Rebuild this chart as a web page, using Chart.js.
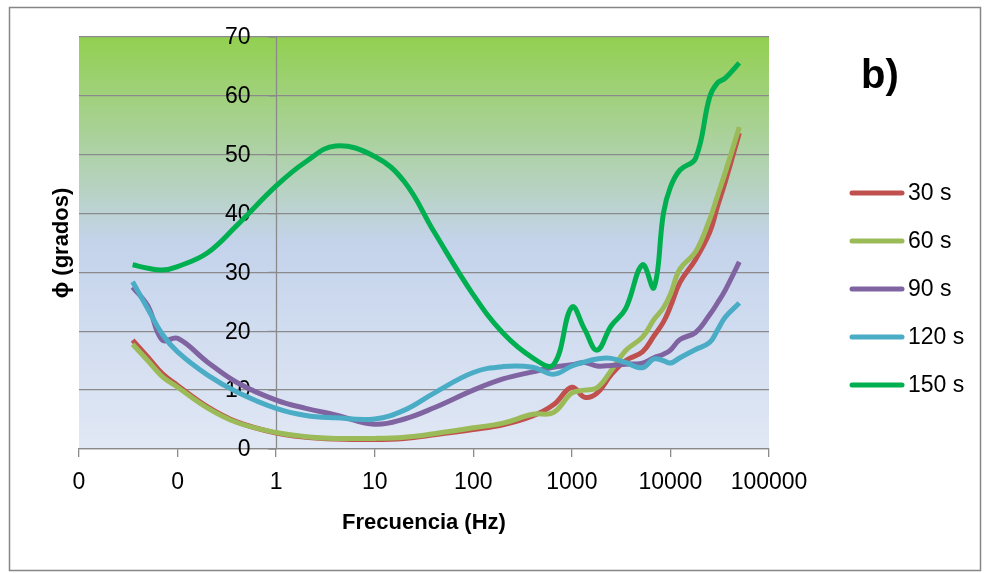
<!DOCTYPE html>
<html>
<head>
<meta charset="utf-8">
<script src="https://cdn.jsdelivr.net/npm/chart.js@4.4.0/dist/chart.umd.min.js"></script>
<style>
  html, body { margin: 0; padding: 0; background: #fff; }
</style>
</head>
<body>
<canvas id="phaseChart" width="984" height="573"></canvas>
<script>
// frequencies (Hz) shared by every series
const freqs = [0.035, 0.05, 0.07, 0.1, 0.2, 0.4, 1, 2, 4, 10, 20, 40, 100, 200, 400, 650,
  1000, 1350, 1800, 2500, 3500, 5200, 6800, 8500, 10000, 12500, 18000, 25000, 30000, 36000, 50000];

// phase angle (degrees)
const phase30 = [18.5, 15.6, 12.8, 10.8, 7.2, 4.6, 2.7, 2.0, 1.7, 1.6, 1.8, 2.4, 3.3, 4.1, 5.6, 7.5,
  10.5, 8.8, 9.5, 12.6, 15.0, 16.5, 19.2, 21.6, 24.2, 28.3, 32.2, 36.8, 41.2, 45.4, 53.7];
const phase60 = [17.8, 15.0, 12.3, 10.5, 7.0, 4.5, 2.8, 2.1, 1.8, 1.8, 2.0, 2.6, 3.6, 4.4, 5.9, 6.2,
  9.5, 10.0, 10.4, 13.3, 16.7, 19.0, 22.0, 24.0, 26.3, 30.6, 33.5, 39.0, 43.0, 47.0, 54.7];
const phase90 = [27.5, 24.3, 18.5, 18.8, 14.8, 11.3, 8.3, 6.9, 5.8, 4.2, 5.1, 7.0, 10.0, 11.9, 13.1, 13.9,
  14.3, 14.7, 14.1, 14.2, 14.4, 14.6, 15.5, 16.1, 16.8, 18.6, 19.8, 22.8, 24.8, 27.0, 31.8];
const phase120 = [28.4, 23.8, 19.5, 16.5, 12.6, 9.7, 6.9, 5.7, 5.3, 5.1, 6.6, 9.5, 13.0, 14.0, 13.9, 12.7,
  14.1, 14.8, 15.3, 15.4, 14.7, 13.8, 15.3, 15.0, 14.6, 15.5, 16.9, 18.1, 20.2, 22.4, 24.8];
const phase150 = [31.3, 30.7, 30.4, 31.0, 33.3, 38.0, 44.7, 48.8, 51.5, 49.7, 45.4, 36.9, 26.2, 19.7, 15.5, 14.3,
  24.1, 20.3, 16.8, 20.9, 23.8, 31.3, 27.4, 40.1, 44.5, 47.4, 49.4, 59.8, 62.2, 63.0, 65.6];

const seriesLabels = ['30 s', '60 s', '90 s', '120 s', '150 s'];
const seriesColors = ['#C0504D', '#9BBB59', '#8064A2', '#4BACC6', '#00B050'];
const seriesValues = [phase30, phase60, phase90, phase120, phase150];

const xTickValues = [0.01, 0.1, 1, 10, 100, 1000, 10000, 100000];
const xTickLabels = ['0', '0', '1', '10', '100', '1000', '10000', '100000'];
const yCrossAt = 1; // the vertical axis crosses the log axis at 1 Hz

const FONT = '"Liberation Sans", Arial, sans-serif';
const GRID = '#8a8a8a';

// plot background, crossing y axis with its labels, frame, legend, panel letter and y title
const decor = {
    id: 'decor',
    beforeDraw(chart) {
        const { ctx, chartArea: a } = chart;
        ctx.save();
        ctx.fillStyle = '#fff';
        ctx.fillRect(0, 0, chart.width, chart.height);
        const g = ctx.createLinearGradient(0, a.top, 0, a.bottom);
        g.addColorStop(0, 'rgb(146,208,80)');
        g.addColorStop(0.5, 'rgb(196,211,235)');
        g.addColorStop(1, 'rgb(225,232,245)');
        ctx.fillStyle = g;
        ctx.fillRect(a.left, a.top, a.right - a.left, a.bottom - a.top);
        ctx.strokeStyle = '#868686';
        ctx.lineWidth = 1.5;
        ctx.strokeRect(9.5, 7.5, 971, 563);
        ctx.restore();
    },
    beforeDatasetsDraw(chart) {
        const { ctx, chartArea: a, scales: { x, y } } = chart;
        const xc = Math.round(x.getPixelForValue(yCrossAt)) + 0.5;
        ctx.save();
        ctx.strokeStyle = GRID;
        ctx.lineWidth = 1.3;
        ctx.beginPath();
        ctx.moveTo(xc, a.top);
        ctx.lineTo(xc, a.bottom);
        y.ticks.forEach(t => {
            const py = y.getPixelForValue(t.value);
            ctx.moveTo(xc - 8, py);
            ctx.lineTo(xc, py);
        });
        ctx.stroke();
        ctx.fillStyle = '#000';
        ctx.font = '23px ' + FONT;
        ctx.textAlign = 'right';
        ctx.textBaseline = 'middle';
        y.ticks.forEach(t => {
            ctx.fillText(String(t.value), xc - 26, y.getPixelForValue(t.value) + 1);
        });
        ctx.restore();
    },
    afterDraw(chart) {
        const ctx = chart.ctx;
        ctx.save();
        // legend
        ctx.font = '23px ' + FONT;
        ctx.textBaseline = 'middle';
        ctx.textAlign = 'left';
        ctx.lineCap = 'round';
        seriesLabels.forEach((lbl, i) => {
            const y = 193 + i * 48;
            ctx.strokeStyle = seriesColors[i];
            ctx.lineWidth = 5;
            ctx.beginPath();
            ctx.moveTo(852, y);
            ctx.lineTo(902, y);
            ctx.stroke();
            ctx.fillStyle = '#000';
            ctx.fillText(lbl, 908, y + 1);
        });
        // panel letter
        ctx.font = 'bold 40px ' + FONT;
        ctx.textBaseline = 'alphabetic';
        ctx.fillText('b)', 861, 88);
        // y axis title
        ctx.translate(62, 243);
        ctx.rotate(-Math.PI / 2);
        ctx.textAlign = 'center';
        ctx.textBaseline = 'middle';
        ctx.font = 'bold 22px ' + FONT;
        ctx.fillText('\u03D5 (grados)', 0, 0);
        ctx.restore();
    }
};

new Chart(document.getElementById('phaseChart'), {
    type: 'line',
    data: {
        datasets: seriesLabels.map((lbl, i) => ({
            label: lbl,
            data: freqs.map((f, k) => ({ x: f, y: seriesValues[i][k] })),
            borderColor: seriesColors[i],
            borderWidth: 5,
            pointRadius: 0,
            tension: 0.4,
            fill: false,
            order: seriesLabels.length - i
        }))
    },
    options: {
        responsive: false,
        animation: false,
        layout: { padding: { left: 79, right: 215, top: 37, bottom: 30 } },
        plugins: { legend: { display: false }, tooltip: { enabled: false } },
        scales: {
            x: {
                type: 'logarithmic',
                min: 0.01,
                max: 100000,
                afterBuildTicks: s => { s.ticks = xTickValues.map(v => ({ value: v })); },
                afterFit: s => { s.height = 94; },
                ticks: {
                    autoSkip: false, maxRotation: 0, padding: 12, color: '#000',
                    font: { family: FONT, size: 23 },
                    callback: (v, i) => xTickLabels[i]
                },
                grid: { drawOnChartArea: false, tickLength: 8, color: GRID, lineWidth: 1.3 },
                border: { display: true, color: GRID, width: 1.3 },
                title: {
                    display: true, text: 'Frecuencia (Hz)', color: '#000',
                    font: { family: FONT, size: 22, weight: 'bold' },
                    padding: { top: 0, bottom: 7 }
                }
            },
            y: {
                min: 0,
                max: 70,
                afterFit: s => { s.width = 0; },
                ticks: { stepSize: 10, display: false },
                grid: { color: GRID, lineWidth: 1.3, drawTicks: false },
                border: { display: false }
            }
        }
    },
    plugins: [decor]
});
</script>
</body>
</html>
